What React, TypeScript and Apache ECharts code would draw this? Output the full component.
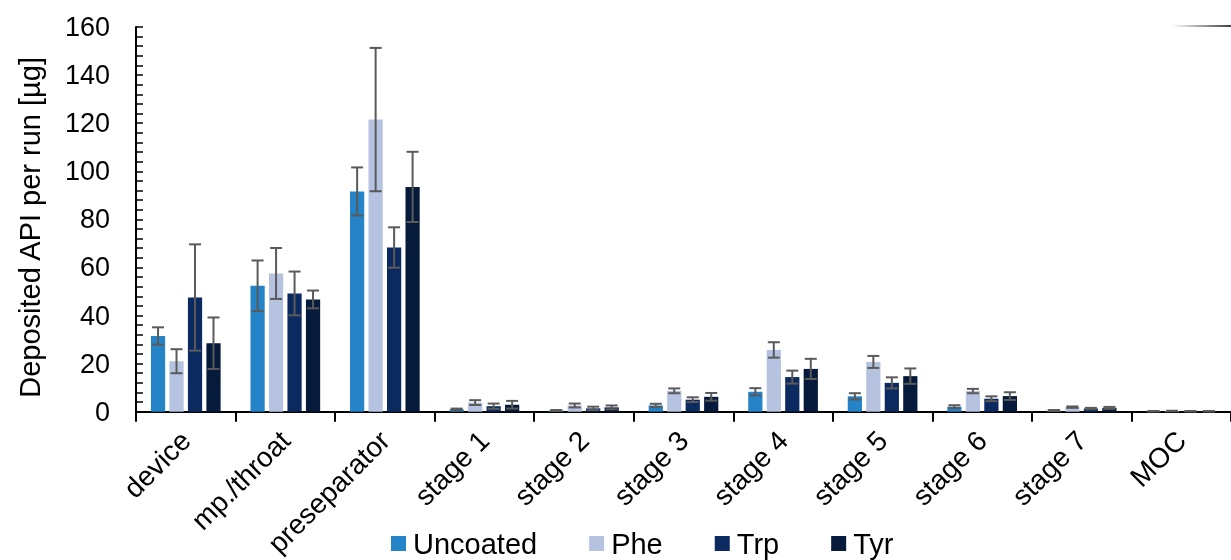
import React, { useEffect, useRef } from "react";
import * as echarts from "echarts";

const categories = ["device", "mp./throat", "preseparator", "stage 1", "stage 2", "stage 3", "stage 4", "stage 5", "stage 6", "stage 7", "MOC"];
const seriesNames = ["Uncoated", "Phe", "Trp", "Tyr"];
const colors = ["#2583C7", "#B5C2E0", "#0B2A60", "#061A3B"];

const uncoated = [31.5, 52.4, 91.6, 1.0, 0.5, 2.6, 8.3, 6.4, 2.1, 0.5, 0.2];
const uncoatedErr = [3.6, 10.5, 10.0, 0.3, 0.2, 0.7, 1.5, 1.3, 0.6, 0.2, 0.1];
const phe = [21.0, 57.5, 121.5, 3.8, 2.6, 8.7, 25.7, 20.7, 8.6, 1.9, 0.3];
const pheErr = [5.0, 10.6, 29.8, 1.0, 0.8, 1.0, 3.2, 2.5, 0.9, 0.3, 0.1];
const trp = [47.5, 49.2, 68.3, 2.3, 1.4, 5.0, 14.4, 12.0, 5.4, 1.3, 0.2];
const trpErr = [22.1, 9.1, 8.4, 1.1, 0.7, 1.0, 2.7, 2.3, 1.0, 0.3, 0.1];
const tyr = [28.5, 46.7, 93.5, 2.9, 1.8, 6.2, 17.8, 14.8, 6.5, 1.6, 0.2];
const tyrErr = [10.7, 3.7, 14.6, 1.6, 0.8, 1.6, 4.2, 3.2, 1.6, 0.4, 0.1];

const yTicks = [0, 20, 40, 60, 80, 100, 120, 140, 160];

const FONT = "Arial, 'Liberation Sans', sans-serif";

export default function App() {
  const ref = useRef<HTMLDivElement>(null);
  useEffect(() => {
    if (!ref.current) return;
    const chart = echarts.init(ref.current, null, { renderer: "svg" });
    const values = [uncoated, phe, trp, tyr];
    const errs = [uncoatedErr, pheErr, trpErr, tyrErr];
    const errData: number[][] = [];
    values.forEach((vals, s) => {
      vals.forEach((v, i) => {
        errData.push([i, Math.max(0, v - errs[s][i]), v + errs[s][i], s]);
      });
    });
    const bars = seriesNames.map((name, s) => ({
      name,
      type: "bar",
      data: values[s],
      barGap: "30%",
      barCategoryGap: "30%",
      itemStyle: { color: colors[s] },
      z: 2,
    }));
    const option: any = {
      animation: false,
      textStyle: { fontFamily: FONT },
      grid: { left: 136, right: -8, top: 27, bottom: 147, containLabel: false },
      legend: {
        data: seriesNames,
        left: 391,
        top: 529,
        padding: 0,
        itemWidth: 15,
        itemHeight: 15,
        itemGap: 52,
        icon: "rect",
        textStyle: { fontSize: 29, color: "#000", fontFamily: FONT, padding: [0, 0, 0, 2] },
      },
      xAxis: {
        type: "category",
        data: categories,
        axisLine: { lineStyle: { color: "#000", width: 2 } },
        axisTick: { show: true, length: 10, lineStyle: { color: "#000", width: 2 } },
        axisLabel: { rotate: 45, fontSize: 28, color: "#000", margin: 24, fontFamily: FONT, interval: 0 },
      },
      yAxis: {
        type: "value",
        min: yTicks[0],
        max: yTicks[yTicks.length - 1],
        interval: 20,
        name: "Deposited API per run [µg]",
        nameLocation: "middle",
        nameGap: 92,
        nameTextStyle: { fontSize: 29, color: "#000", fontFamily: FONT, padding: [0, 16, 0, 0] },
        axisLine: { show: true, lineStyle: { color: "#000", width: 2 } },
        axisTick: { show: true, inside: true, length: 7, lineStyle: { color: "#000", width: 1.5 } },
        minorTick: { show: true, splitNumber: 5, length: 7, lineStyle: { color: "#000", width: 1.5 } },
        splitLine: { show: false },
        axisLabel: { fontSize: 27, color: "#000", margin: 26, fontFamily: FONT },
      },
      graphic: [
        {
          type: "rect",
          shape: { x: 1172, y: 25, width: 59, height: 2 },
          style: {
            fill: new echarts.graphic.LinearGradient(0, 0, 1, 0, [
              { offset: 0, color: "rgba(64,64,64,0)" },
              { offset: 1, color: "rgba(64,64,64,1)" },
            ]),
          },
        },
      ],
      series: [
        ...bars,
        {
          type: "custom",
          name: "errors",
          z: 5,
          encode: { x: 0, y: [1, 2] },
          data: errData,
          renderItem: (params: any, api: any) => {
            const idx = api.value(0);
            const lo = api.value(1);
            const hi = api.value(2);
            const s = api.value(3);
            const band = api.size([1, 0])[0];
            const w = (band * 0.7) / 4.9;
            const offset = (s - 1.5) * 1.3 * w;
            const top = api.coord([idx, hi]);
            const bot = api.coord([idx, lo]);
            const x = top[0] + offset;
            const cap = 6;
            const style = { stroke: "#5A5A5A", lineWidth: 2 };
            return {
              type: "group",
              children: [
                { type: "line", shape: { x1: x, y1: top[1], x2: x, y2: bot[1] }, style },
                { type: "line", shape: { x1: x - cap, y1: top[1], x2: x + cap, y2: top[1] }, style },
                { type: "line", shape: { x1: x - cap, y1: bot[1], x2: x + cap, y2: bot[1] }, style },
              ],
            };
          },
        },
      ],
    };
    chart.setOption(option);
    return () => chart.dispose();
  }, []);
  return <div ref={ref} style={{ position: "fixed", left: 0, top: 0, width: 1231, height: 560 }} />;
}
